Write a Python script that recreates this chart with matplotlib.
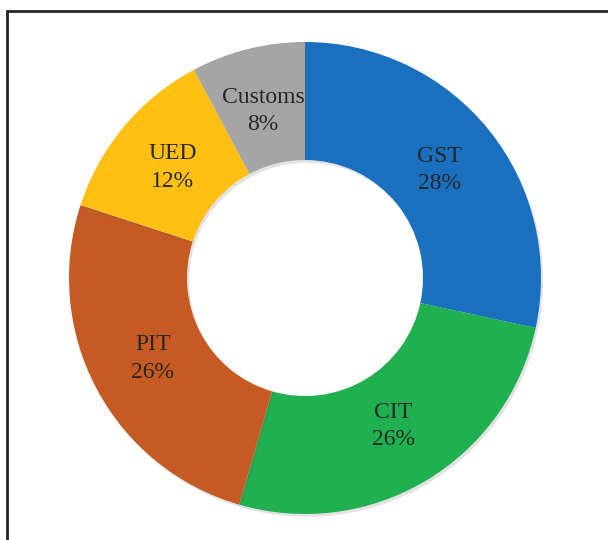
import numpy as np
import matplotlib.pyplot as plt
import matplotlib.patches as mpatches
import matplotlib.patheffects as pe

labels = ["GST", "CIT", "PIT", "UED", "Customs"]
shares = [28.4, 26.1, 25.5, 12.2, 7.8]   # wedge sizes
pct_labels = [28, 26, 26, 12, 8]          # as printed on the chart
colors = ["#1a70bf", "#21b04f", "#c55a22", "#ffc013", "#a5a5a5"]

W, H = 608, 540
fig = plt.figure(figsize=(W / 100, H / 100), dpi=100)

cx, cy, r = 305, 262, 236
ax = fig.add_axes([(cx - r) / W, (cy - r) / H, 2 * r / W, 2 * r / H])

wedges, texts = ax.pie(
    shares, colors=colors, startangle=90, counterclock=False, radius=1.0,
    wedgeprops=dict(width=0.5, edgecolor="none",
                    path_effects=[pe.SimplePatchShadow(offset=(1.5, -2), alpha=0.18, shadow_rgbFace="#606060"),
                                  pe.Normal()]),
)

for w, lab, v in zip(wedges, labels, pct_labels):
    ang = np.deg2rad((w.theta1 + w.theta2) / 2)
    x, y = 0.73 * np.cos(ang), 0.73 * np.sin(ang)
    ax.text(x, y, f"{lab}\n{v}%", ha="center", va="center", fontsize=17,
            family="Liberation Serif", color="#262626", linespacing=1.4)

ax.set_xlim(-1, 1)
ax.set_ylim(-1, 1)
ax.set_aspect("equal")
ax.axis("off")

frame = mpatches.Rectangle((7 / W, -0.1), 1.2, (H - 11) / H + 0.1, transform=fig.transFigure,
                           fill=False, edgecolor="#262626", linewidth=2)
fig.patches.append(frame)

fig.savefig("out.png", dpi=100, facecolor="white")
